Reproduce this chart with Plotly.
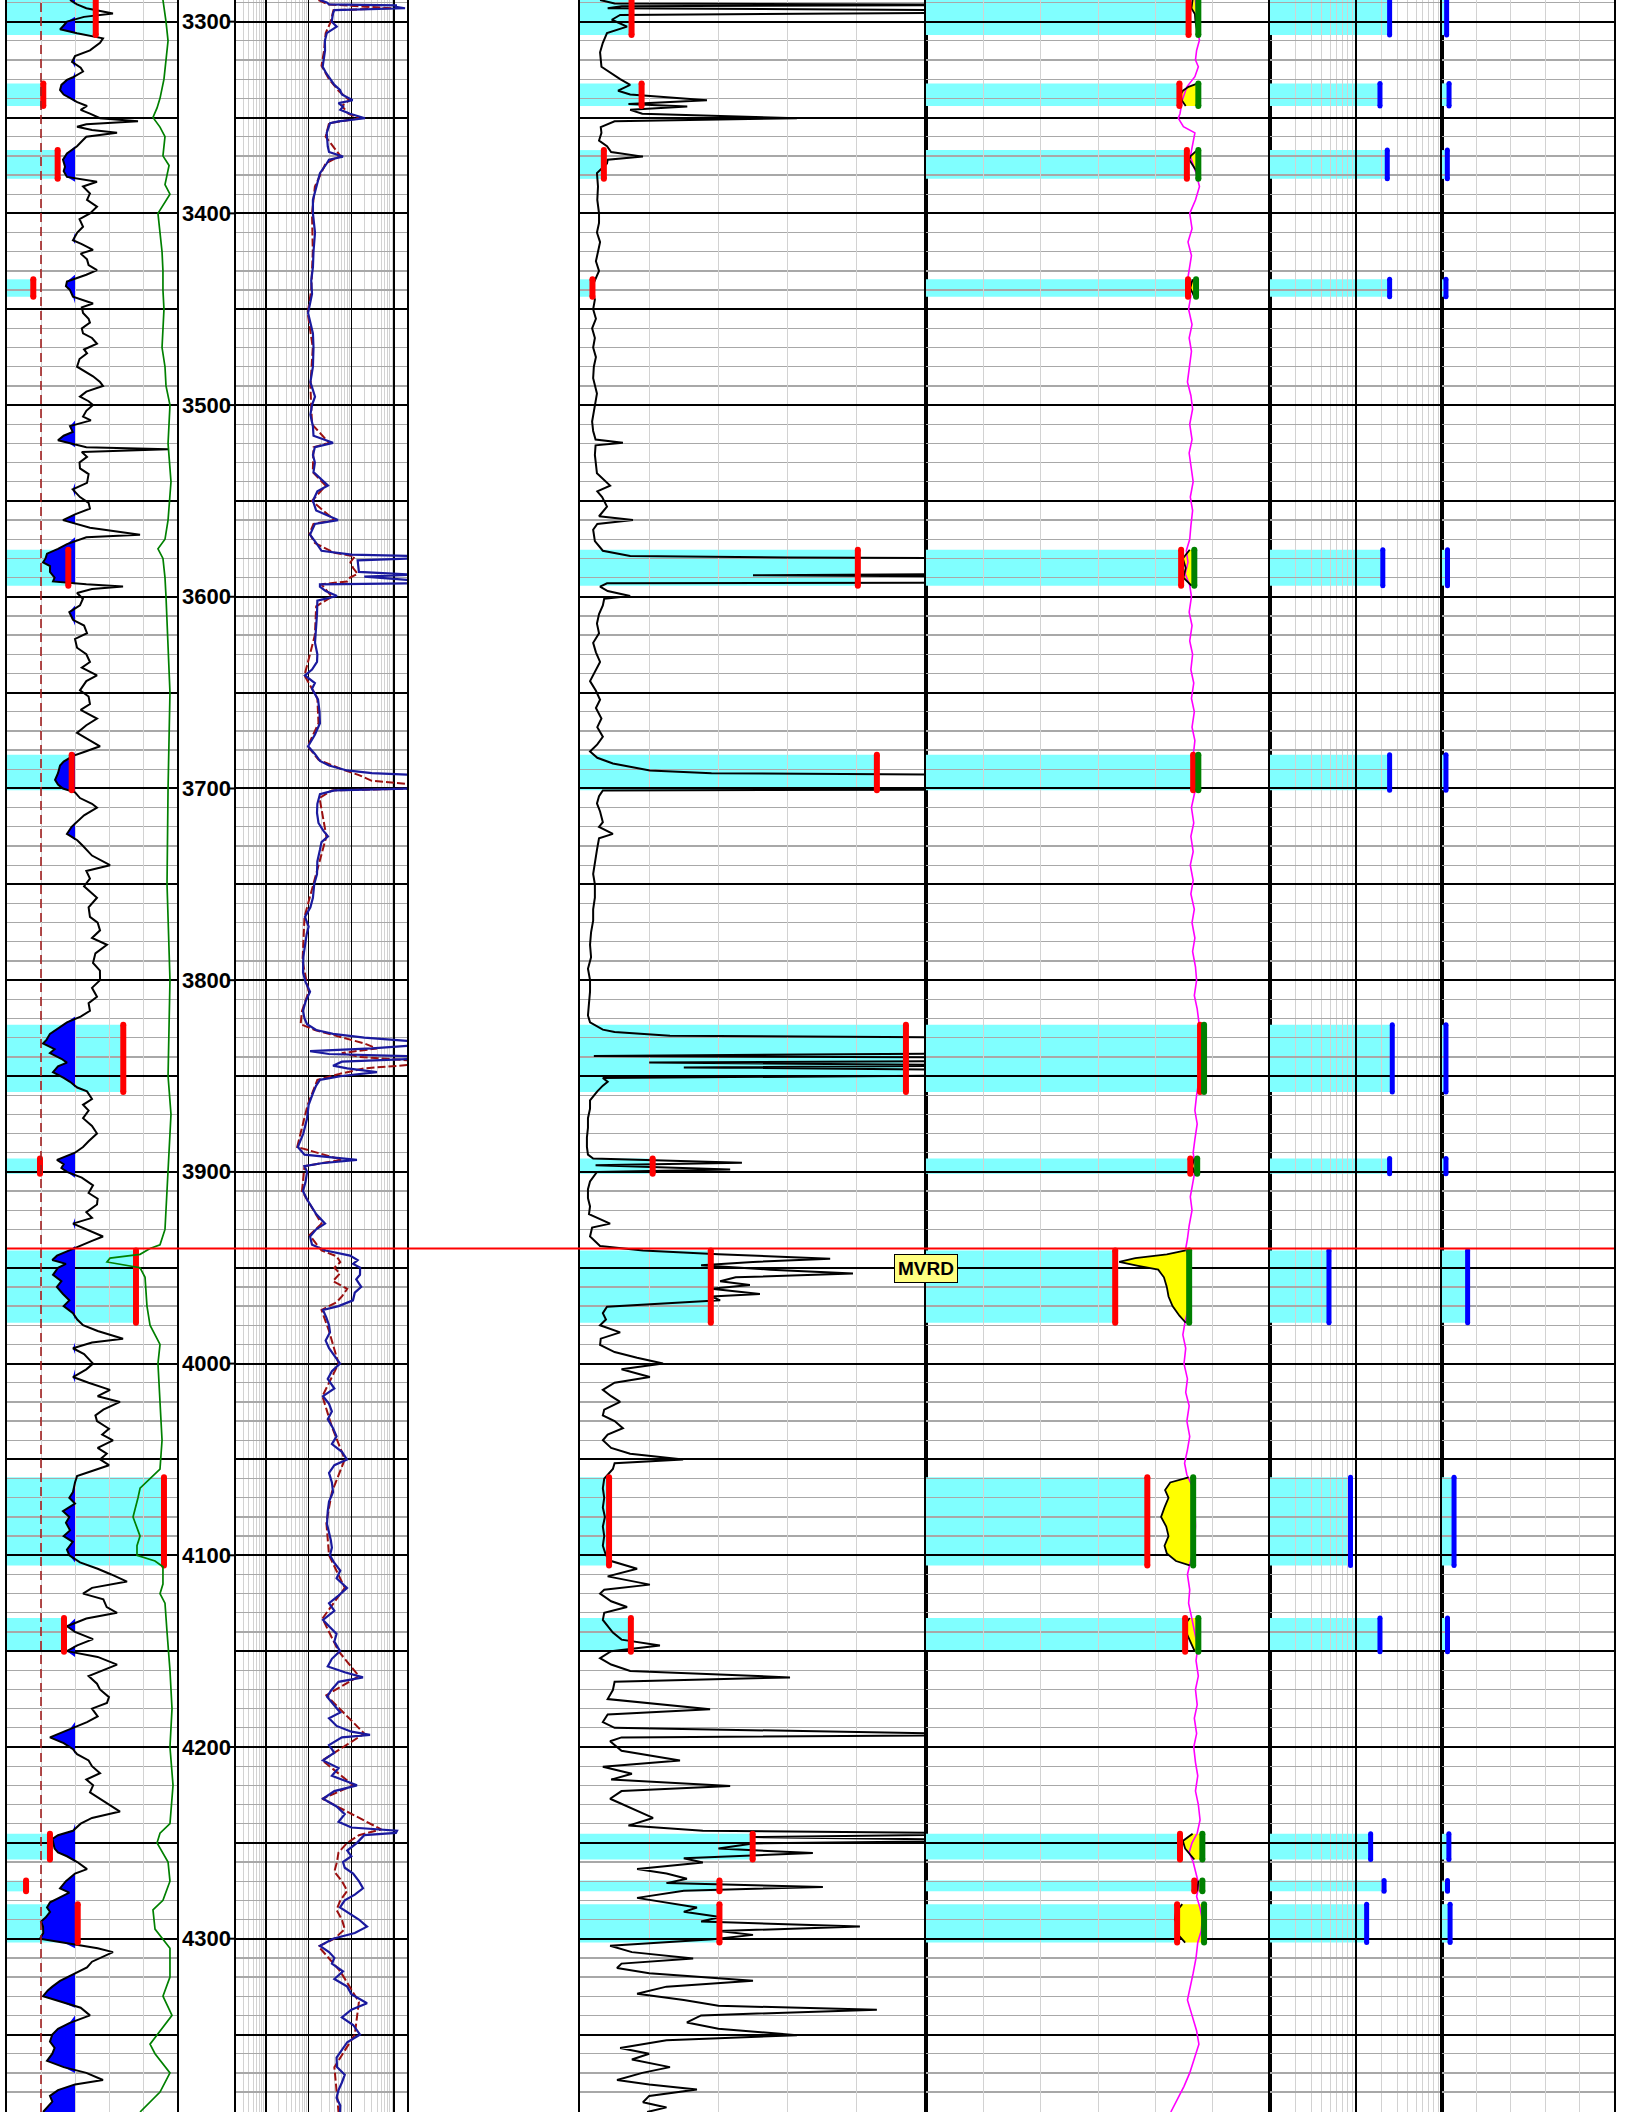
import plotly.graph_objects as go

W, H = 1632, 2112
TOP_DEPTH, BASE_DEPTH = 3288.7, 4390.4

# ---------------- data ----------------
# Track 1 : gamma ray (API), depth ft
GR = [(3288.7, 55.6), (3291, 61.8), (3293, 70), (3295.7, 93.5), (3297.5, 68), (3300, 52.9), (3302, 50),
      (3304, 46.8), (3306, 61.8), (3308.7, 84.7), (3311, 82.1), (3315, 73.2), (3318, 60), (3321, 57.4),
      (3324, 65), (3326, 67.1), (3329, 58.2), (3330.4, 52.9), (3333, 48), (3335.6, 46.8), (3338, 50),
      (3340, 55.6), (3342, 62), (3344, 70.6), (3346, 65), (3348, 73.2), (3350.4, 82.1), (3352, 115.6),
      (3353.5, 70), (3354.8, 61.8), (3356.5, 75), (3358, 97.1), (3360, 70), (3361.7, 67.1), (3365, 61.8),
      (3368.7, 52.9), (3372, 49.4), (3375.7, 51.2), (3378, 50), (3381, 52.9), (3383.5, 79.4), (3386, 67.1),
      (3389.6, 73.2), (3393, 70.6), (3396.5, 79.4), (3400, 73.2), (3403, 64), (3407, 67.1), (3410, 62),
      (3414, 58.2), (3416, 66), (3419, 75.9), (3421, 65), (3424, 70.6), (3427, 72), (3429.6, 79.4),
      (3432, 70), (3435.6, 52.9), (3438, 52), (3440, 55.6), (3443.5, 58.2), (3447, 75.9), (3449, 66),
      (3452, 67.1), (3455, 72), (3457, 73.2), (3460, 66), (3462.6, 67.1), (3465, 75), (3468, 79.4),
      (3471, 68), (3473, 70.6), (3476, 64), (3480, 61.8), (3483, 70), (3485, 75.9), (3488, 82.1),
      (3490, 84.7), (3493, 70), (3495.6, 64.4), (3498, 72), (3500, 75.9), (3503, 70), (3506, 67.1),
      (3508, 74), (3511, 55.6), (3514, 58), (3516, 50), (3518.4, 45), (3520, 55), (3522, 70), (3523, 142.1),
      (3524.5, 66), (3527, 70.6), (3530, 64), (3533, 64.4), (3536, 72), (3540.6, 70.6), (3544, 58),
      (3548, 64.4), (3551, 72), (3554, 73.2), (3557, 60), (3560, 49.4), (3562, 62), (3564, 73.2),
      (3567.6, 117.4), (3569, 70), (3572.5, 52.9), (3575, 45), (3577.5, 35.3), (3580, 34), (3582, 31.8),
      (3584, 38), (3587, 37.9), (3590, 42), (3592, 40.6), (3593.5, 70), (3594.7, 102.4), (3596, 75),
      (3598, 61.8), (3601, 67), (3604.5, 64.4), (3608, 55), (3612, 58.2), (3615, 68), (3619, 70.6),
      (3622, 60), (3626.6, 61.8), (3630, 70), (3634, 73.2), (3637, 66), (3641, 79.4), (3644, 70),
      (3648.8, 64.4), (3652, 72), (3656, 73.2), (3659, 65), (3663.5, 79.4), (3667, 70), (3671, 61.8),
      (3674, 70), (3678, 82.1), (3681, 68), (3683, 58.2), (3686, 50), (3688, 46.8), (3692, 45),
      (3695.5, 42.4), (3698, 45), (3700, 49.4), (3702, 60), (3705, 64.4), (3708, 75), (3710, 79.4),
      (3714, 68), (3717.6, 61.8), (3720, 57), (3723.7, 52.9), (3727, 62), (3730, 67.1), (3735, 75),
      (3740, 90.9), (3743, 70), (3747, 73.2), (3751, 68), (3757, 79.4), (3762, 72), (3767, 73.2),
      (3770, 80), (3774, 82.1), (3778, 75), (3781.5, 88.2), (3786, 78), (3791, 75.9), (3795, 82),
      (3800, 82.1), (3804, 75), (3808.6, 79.4), (3812, 72), (3816, 73.2), (3819, 65), (3822, 52.9),
      (3825, 45), (3828, 37.9), (3831, 35), (3833, 31.8), (3836, 42), (3838, 37.9), (3841, 48),
      (3843, 52.9), (3845, 45), (3848, 40.6), (3851, 50), (3853, 55.6), (3856, 62), (3858, 70.6),
      (3862, 75), (3865, 67.1), (3868, 72), (3872, 67.1), (3876, 75), (3880, 79.4), (3884, 72),
      (3887, 67.1), (3890, 60), (3893.7, 44.1), (3896, 50), (3898, 48), (3900, 52.9), (3903, 66),
      (3907, 75.9), (3911, 72), (3914, 80), (3917, 79.4), (3921, 70), (3924, 75), (3927, 58.2),
      (3930, 70), (3933.7, 84.7), (3936, 75), (3938.7, 64.4), (3941, 55), (3943.7, 44.1), (3946, 40),
      (3948, 52), (3950, 45), (3953.7, 40.6), (3957, 48), (3960, 44), (3963.7, 49.4), (3967, 55),
      (3970, 50), (3973.7, 58.2), (3977, 62), (3980, 67.1), (3983, 80), (3987, 102.4), (3989, 75),
      (3992, 58.2), (3995, 68), (4000, 75.9), (4003, 70), (4007, 58.2), (4010, 72), (4013.7, 90.9),
      (4017, 80), (4020, 99.7), (4024, 85), (4027, 78), (4030, 79.4), (4034, 90), (4037, 84),
      (4040, 93.5), (4044, 80), (4047, 88), (4050, 82.1), (4053, 90), (4056, 75), (4058.7, 61.8),
      (4062, 60), (4067, 58.2), (4070, 55), (4073, 60), (4077, 49.4), (4080, 55), (4083, 52),
      (4087, 55.6), (4090, 50), (4093, 58), (4097, 52.9), (4100, 55), (4103.7, 64.4), (4107, 80),
      (4110, 92), (4113.7, 105.9), (4117, 75), (4120, 67.1), (4123, 85), (4127, 88), (4130, 97.1),
      (4133, 70), (4137, 52.9), (4140, 60), (4143.7, 75.9), (4147, 62), (4150, 52.9), (4153, 80),
      (4157, 97.1), (4160, 85), (4163, 72), (4167, 79.4), (4170, 82), (4174, 90), (4177, 88.2),
      (4180, 75), (4184, 80), (4187, 70.6), (4191, 55), (4195, 37.9), (4198, 50), (4201, 58),
      (4203.7, 61.8), (4207, 72), (4210, 75), (4213.7, 82.1), (4217, 70), (4220, 76), (4223.7, 73.2),
      (4227, 82), (4230, 90), (4233.7, 99.7), (4237, 75), (4240, 65), (4243.7, 58.2), (4246, 45),
      (4248, 40), (4250, 40.6), (4253, 42), (4255, 45), (4257, 52.9), (4260, 62), (4263.7, 70.6),
      (4266, 60), (4270, 52), (4273.7, 46.8), (4276, 55), (4279, 45), (4281, 38), (4283.7, 35.3),
      (4286, 38), (4289, 34), (4291, 30), (4293.7, 31.8), (4297, 32), (4300, 29.1), (4302, 50),
      (4305, 80), (4307, 93.5), (4310, 82), (4312, 75), (4315, 70.6), (4318, 60), (4322, 46.8),
      (4325, 40), (4327, 36), (4330, 31.8), (4333, 48), (4336, 65), (4340, 73.2), (4344, 55),
      (4347, 45), (4350, 40), (4353.7, 37.9), (4357, 42), (4360, 40), (4363.7, 35.3), (4367, 50),
      (4370, 70), (4373.7, 84.7), (4376, 60), (4379, 45), (4382, 37.9), (4385, 40), (4388, 35),
      (4390.4, 31.8)]
GR_CUTOFF = 60.0
GR_CLEAN = 30.0

# Track 1 : SP (mV)
SP = [(3288.7, -62.4), (3295, -60.6), (3300, -59.7), (3310, -57.9), (3320, -59.7), (3330, -61.5),
      (3340, -65.0), (3345, -67.6), (3350, -71.2), (3355, -65.0), (3360, -60.6), (3370, -62.4),
      (3375, -57.0), (3380, -58.8), (3385, -60.6), (3390, -56.2), (3400, -66.8), (3410, -65.0),
      (3420, -63.2), (3430, -62.4), (3440, -62.4), (3450, -61.5), (3460, -62.4), (3470, -63.2),
      (3480, -60.6), (3490, -59.7), (3500, -56.2), (3520, -57.9), (3540, -55.3), (3560, -57.9),
      (3570, -60.6), (3575, -66.8), (3580, -62.4), (3590, -60.6), (3600, -59.7), (3650, -56.2),
      (3700, -57.9), (3750, -58.8), (3800, -56.2), (3850, -57.9), (3870, -55.3), (3880, -56.2),
      (3900, -57.9), (3930, -60.6), (3938, -65.0), (3940, -73.8), (3943, -82.6), (3945, -109.1),
      (3947, -111.8), (3950, -82.6), (3955, -78.2), (3970, -76.5), (3980, -73.8), (3985, -69.4),
      (3990, -65.0), (4000, -66.8), (4020, -65.0), (4040, -63.2), (4055, -65.0), (4060, -73.8),
      (4065, -82.6), (4070, -84.4), (4080, -88.8), (4090, -82.6), (4095, -85.3), (4100, -85.3),
      (4103, -69.4), (4106, -62.4), (4115, -62.4), (4120, -65.0), (4125, -60.6), (4140, -58.8),
      (4160, -56.2), (4180, -54.4), (4200, -56.2), (4220, -53.5), (4240, -56.2), (4245, -65.0),
      (4250, -67.6), (4260, -57.9), (4270, -56.2), (4280, -62.4), (4285, -71.2), (4295, -69.4),
      (4305, -56.2), (4320, -56.2), (4330, -62.4), (4340, -54.4), (4350, -66.8), (4355, -73.8),
      (4360, -69.4), (4370, -56.2), (4380, -65.0), (4390.4, -82.6)]

# Track 2 : deep resistivity (ohm.m)
RES_DEEP = [(3288.7, 18.4), (3290, 26.5), (3291, 30), (3291.5, 1100), (3292.3, 1100), (3293, 1800),
            (3294, 40), (3295.6, 37.2), (3300, 34.7), (3302.6, 45.4), (3306, 26.5), (3310, 24),
            (3315, 24.2), (3320, 22), (3323.5, 21.3), (3327, 26), (3330, 31.6), (3333, 40), (3335.6, 54.2),
            (3338, 60), (3341, 107), (3342.5, 50), (3344.3, 63.7), (3346, 55), (3348, 93), (3350.4, 208),
            (3352, 50), (3353, 31.6), (3358, 26.5), (3365, 28), (3368, 30), (3370.4, 63.7), (3372, 30),
            (3374, 26.5), (3379, 18.4), (3386, 15), (3393, 12.6), (3400, 12.6), (3410, 14.1), (3420, 13),
            (3428, 12.6), (3435, 11.5), (3442, 12), (3452, 9.7), (3462.6, 12.6), (3470, 13), (3480, 12.6),
            (3488, 11), (3495.6, 14.1), (3500, 12), (3505, 11), (3511, 12.6), (3516, 13), (3519.7, 37.2),
            (3522, 14), (3526, 12.6), (3530, 14), (3535, 13), (3542, 28.4), (3545, 16), (3550, 12.6),
            (3555, 15), (3560, 48.7), (3562, 14), (3567.6, 10.8), (3572.5, 15.7), (3576, 20), (3578, 100),
            (3578.7, 3000), (3580, 3000), (3581, 140), (3587, 150), (3588.5, 3000), (3589.5, 200),
            (3591.5, 3000), (3593, 3000), (3593.5, 18.4), (3594.7, 18.4), (3597, 25), (3599.6, 46.1),
            (3602, 16), (3609, 15.7), (3615, 15), (3624, 14.1), (3630, 16), (3634, 15.7), (3638, 12),
            (3641, 8.2), (3645, 14), (3648, 12), (3653.7, 16.6), (3660, 18), (3666, 18.4), (3672, 14),
            (3678, 9.7), (3682, 14), (3685.6, 18.4), (3688, 30), (3690.6, 79), (3692, 300), (3693, 3000),
            (3700, 3000), (3701, 40), (3703, 18.4), (3708, 16), (3712.7, 15.7), (3718, 17), (3722, 22),
            (3725, 28.4), (3728, 20), (3732, 18.4), (3738, 16), (3744.6, 15.7), (3750, 13.5), (3757, 12.6),
            (3762, 11), (3767, 8.2), (3772, 10), (3776, 9), (3781.5, 8.2), (3788, 7.5), (3796, 7.4),
            (3801, 8.5), (3806, 10.8), (3811, 8.5), (3816, 7.4), (3820, 8), (3823, 9.2), (3826, 15),
            (3828, 37.2), (3830, 200), (3832, 3000), (3834, 3000), (3835.6, 300), (3837, 10.8),
            (3838.5, 30), (3839.7, 3000), (3841, 3000), (3842.5, 60), (3844.6, 37.2), (3846, 80),
            (3848, 397), (3850, 60), (3852, 18.4), (3855, 15), (3859, 12.6), (3865, 10), (3872, 9.2),
            (3880, 7.5), (3887, 5.6), (3891, 8), (3893.7, 135), (3895.5, 20), (3897, 8), (3900, 9.2),
            (3905, 8.5), (3910, 7.4), (3914, 9), (3917, 10.8), (3922, 15), (3927, 24.2), (3930, 15),
            (3933.7, 10.8), (3938, 12), (3941, 25), (3943.7, 93), (3946, 140), (3948, 110), (3950, 160),
            (3953.7, 159), (3956, 130), (3960, 170), (3963, 120), (3967, 109), (3970, 50), (3972, 21.7),
            (3976, 26), (3980, 30), (3983.7, 31.6), (3988, 25), (3992, 30), (3996, 40), (4000, 54.2),
            (4004, 35), (4008, 28), (4013, 40), (4017, 21.7), (4021, 30), (4025, 35), (4029, 28),
            (4033.7, 37.2), (4038, 45), (4042, 35), (4046, 60), (4050, 79), (4053, 40), (4057, 30),
            (4062, 35), (4067, 37.2), (4072, 30), (4077, 28), (4083.7, 26.9), (4088, 30), (4092, 33),
            (4096, 35), (4100, 31.6), (4104, 40), (4108, 55), (4112, 45), (4117, 79), (4121, 50),
            (4125, 30), (4129, 40), (4133.7, 21.7), (4137, 30), (4141, 45), (4145, 40), (4150, 54.2),
            (4154, 35), (4158, 28), (4161, 70), (4163.7, 187), (4166, 50), (4170, 35), (4173.7, 26.9),
            (4178, 40), (4182, 55), (4185, 30), (4189, 45), (4192, 100), (4193.7, 273), (4195, 60),
            (4199, 30), (4203, 40), (4207, 21.7), (4211, 50), (4215, 35), (4220, 135), (4223, 40),
            (4227, 21.7), (4231, 45), (4235, 70), (4239, 50), (4242, 100), (4243.7, 1167), (4244.8, 1100),
            (4246, 200), (4250, 135), (4254, 80), (4257, 100), (4260, 63.7), (4263, 70), (4266, 110),
            (4270, 150), (4273.7, 187), (4277, 120), (4280, 70), (4283.7, 54.2), (4287, 90), (4290, 150),
            (4293.7, 232), (4297, 120), (4300, 37.2), (4303.7, 18.4), (4307, 30), (4310, 40), (4313, 35),
            (4317, 63.7), (4321, 40), (4325, 80), (4329, 100), (4333.7, 232), (4337, 100), (4341, 60),
            (4345, 110), (4350, 159), (4354, 80), (4358, 60), (4362, 45), (4367, 46.1), (4371, 70),
            (4375, 60), (4379, 50), (4383, 45), (4387, 55), (4390.4, 54.2)]

# Track 2 : shallow resistivity (ohm.m)
RES_SHALLOW = [(3288.7, 17), (3291, 28), (3293, 900), (3294, 38), (3300, 33), (3306, 25), (3315, 23),
               (3323, 20), (3330, 30), (3336, 50), (3341, 90), (3344, 60), (3348, 85), (3350.4, 150),
               (3353, 30), (3360, 25), (3370, 55), (3374, 25), (3386, 14), (3400, 12), (3420, 12.5),
               (3440, 11.5), (3452, 9.5), (3470, 12.5), (3490, 11), (3500, 11.5), (3510, 12),
               (3519.7, 30), (3522, 13), (3535, 12.5), (3542, 25), (3550, 12), (3560, 40), (3562, 13),
               (3567, 10.5), (3572, 14), (3577, 40), (3579, 120), (3582, 95), (3585, 110), (3588, 140),
               (3590, 93), (3592, 80), (3593.5, 20), (3600, 35), (3605, 15), (3620, 14), (3641, 8),
               (3653, 16), (3666, 17), (3678, 9.5), (3685, 17), (3690, 60), (3693, 150), (3696, 300),
               (3698, 3000), (3700, 3000), (3701, 35), (3705, 18), (3725, 26), (3745, 15), (3767, 8),
               (3790, 7.2), (3806, 10), (3816, 7), (3823, 6.5), (3826, 14), (3830, 60), (3833, 200),
               (3835.6, 397), (3838, 60), (3840, 150), (3842, 3000), (3844, 3000), (3846, 200),
               (3849, 50), (3852, 16), (3865, 9.5), (3887, 5.4), (3893.7, 60), (3897, 8), (3910, 7),
               (3927, 20), (3933, 10.5), (3941, 20), (3944, 45), (3947, 55), (3950, 40), (3953, 54),
               (3957, 37), (3961, 80), (3965, 60), (3968, 45), (3972, 20), (3983, 30), (4000, 50),
               (4017, 21), (4033, 35), (4050, 70), (4067, 35), (4083, 26), (4100, 30), (4117, 70),
               (4133, 21), (4150, 50), (4163, 150), (4173, 26), (4193, 200), (4207, 21), (4220, 110),
               (4227, 21), (4243, 500), (4246, 150), (4250, 80), (4255, 50), (4260, 46), (4265, 40),
               (4270, 60), (4275, 80), (4280, 55), (4285, 45), (4290, 60), (4295, 70), (4300, 40),
               (4304, 17), (4317, 55), (4333, 150), (4350, 120), (4367, 40), (4390.4, 50)]

# Track 3 curve (0-100 scale)
T3_CURVE = [(3288.7, 5.8), (3290.5, 10), (3291.3, 130), (3292, 12), (3293, 8), (3294.2, 130), (3295.2, 130),
            (3296.5, 11.6), (3299, 9.2), (3302.6, 13.6), (3306, 7.8), (3311, 6.6), (3316, 5.8),
            (3323.5, 6.2), (3330, 11.6), (3333, 14.5), (3336, 11), (3338, 14.5), (3341, 36.7), (3343, 14),
            (3344.3, 31), (3346, 14.5), (3348, 18), (3350.4, 62.7), (3352, 10), (3355, 6), (3358, 6.2),
            (3362, 5.5), (3365, 7.8), (3368, 9), (3370.4, 18.2), (3372, 8), (3374, 7.8), (3379, 4.9),
            (3386, 5.2), (3393, 5), (3400, 5.5), (3405, 5.5), (3410, 4.9), (3415, 5.8), (3420, 5.2),
            (3425, 4.6), (3430, 5.5), (3435, 4.3), (3437, 3.8), (3440, 3.5), (3445, 4.3), (3450, 3.8),
            (3455, 4.6), (3460, 3.5), (3465, 4.3), (3470, 3.8), (3475, 4.6), (3480, 4), (3486, 3.8),
            (3494, 4.9), (3500, 4.3), (3508.6, 3.5), (3513.5, 3.8), (3518, 4.5), (3519.7, 12.4),
            (3521, 4.5), (3526, 4.3), (3535.6, 4.9), (3542, 8.7), (3545, 5), (3548, 6.4), (3553, 7.8),
            (3558, 5.5), (3560, 15.3), (3562, 5), (3565, 3.8), (3571, 4.3), (3576, 6.6), (3578.7, 14.5),
            (3579.5, 60), (3580, 130), (3588, 130), (3588.8, 50), (3589.5, 130), (3592.5, 130), (3593, 7.8),
            (3594.7, 5.8), (3597, 8), (3599.6, 14.5), (3601, 7), (3604.5, 6.6), (3609, 5.5), (3614, 4.9),
            (3619, 5.5), (3624, 3.8), (3629, 4.6), (3634, 5.8), (3639, 4.3), (3644, 2.9), (3649, 4.6),
            (3653.7, 5.8), (3658, 4.6), (3663.5, 6.2), (3668, 5), (3673, 6.6), (3677, 5), (3680.7, 2.9),
            (3684, 5), (3687, 9.5), (3690.6, 20.2), (3692, 38), (3693, 130), (3700.5, 130), (3701, 6.6),
            (3704, 5.5), (3707.8, 4.9), (3712, 5.8), (3717.6, 6.6), (3720, 5.5), (3723.7, 9.5), (3726, 5.5),
            (3732, 4.9), (3738, 4.3), (3744.6, 3.8), (3750, 4.3), (3757, 4.3), (3763, 3.8), (3769, 3.8),
            (3775, 3.2), (3781.5, 2.9), (3788, 3.2), (3794, 2.3), (3800, 2.9), (3806, 2.9), (3812, 2.6),
            (3818.4, 2.3), (3822, 2.9), (3825.8, 6.6), (3827, 10), (3829, 26), (3830, 130), (3838, 130),
            (3839.5, 4), (3840.5, 130), (3842, 130), (3843, 20), (3844.5, 130), (3845.5, 30), (3847, 130),
            (3849.5, 130), (3851, 6.6), (3853, 8), (3855, 6.6), (3858, 5), (3862.7, 2.9), (3867, 2.9),
            (3872, 2.3), (3877, 2.3), (3882, 2), (3887, 2), (3891, 2.3), (3893, 3.8), (3895.3, 46.8),
            (3896.5, 4.5), (3898.7, 43.4), (3900, 4.9), (3905, 2.9), (3909, 2.3), (3913.7, 2.3),
            (3918, 2.9), (3922, 2.6), (3927, 8.7), (3929, 3.5), (3933.7, 2.9), (3938.7, 5.8), (3941, 18.2),
            (3943, 40), (3945.3, 72.3), (3947, 50), (3948.7, 35), (3951, 55), (3953, 78.9), (3955, 45),
            (3957, 40.5), (3959, 49.1), (3961, 38), (3963.7, 52), (3965, 38), (3967, 40.5), (3970.3, 7.8),
            (3973.7, 6.6), (3977, 7.5), (3980, 5.8), (3983.7, 11.6), (3987, 6), (3990.3, 5.8), (3994, 10),
            (3997, 16.5), (4000, 24), (4003, 12), (4007, 20.2), (4010, 10), (4013.7, 6.6), (4017, 9),
            (4020, 11.6), (4024, 7), (4027, 6.6), (4030, 10), (4033.7, 12.4), (4037, 8), (4040, 6.6),
            (4044, 9), (4047, 14.5), (4050, 29.8), (4052, 10), (4055, 9.5), (4060, 7), (4065, 6.6),
            (4070, 7), (4075, 6.6), (4080, 7.2), (4085, 6.6), (4090, 7), (4095, 6.6), (4100, 7.5),
            (4103, 9), (4107, 16.5), (4111, 8), (4115.3, 20.2), (4118, 7), (4120, 5.8), (4124, 9),
            (4127, 13.6), (4130, 7), (4133.7, 6.6), (4137, 8), (4140.3, 9.5), (4144, 12), (4147, 23.1),
            (4150, 9), (4153.7, 5.8), (4157, 9), (4160.3, 14.5), (4163.7, 60.7), (4166, 10), (4170.3, 9.5),
            (4175, 8), (4180.3, 37.6), (4183, 8), (4187, 6.6), (4190, 10), (4193.7, 130), (4195, 12),
            (4197, 8.7), (4202, 12), (4207, 28.9), (4210.3, 6.6), (4214, 15), (4217, 9), (4220.3, 43.4),
            (4223, 12), (4227, 8.7), (4232, 15), (4237, 21.1), (4241, 14), (4243.7, 35.5), (4245.3, 130),
            (4247, 50), (4248.7, 130), (4250.3, 50), (4253, 40), (4255.3, 67.3), (4258, 30), (4260.3, 35.5),
            (4263.7, 16.5), (4266, 25), (4268.7, 30.9), (4271, 25), (4273, 70.2), (4275, 30), (4278.7, 16.5),
            (4281, 25), (4283.7, 33.8), (4286, 30), (4288.7, 40.5), (4291, 35), (4293.7, 80.9), (4296, 40),
            (4298, 50), (4300.3, 38.4), (4303.7, 8.7), (4307, 15), (4310.3, 32.7), (4313, 12),
            (4315.3, 10.7), (4318, 20), (4322, 50), (4325, 25), (4328.7, 16.5), (4332, 30), (4335, 40),
            (4337, 85.8), (4340, 35), (4343.7, 30.9), (4347, 40), (4350.3, 62.7), (4353, 25), (4357, 11.6),
            (4360, 20), (4363, 15), (4367, 26), (4370, 18), (4373.7, 10.7), (4376, 20), (4378.7, 33.8),
            (4382, 20), (4385.3, 18.2), (4388, 25), (4390.4, 19.4)]

# Track 4 magenta curve (0-60 scale)
T4_MAGENTA = [(3288.7, 47.0), (3295, 47.2), (3300, 47.1), (3305, 47.3), (3309.6, 47.7), (3315, 47.2),
              (3320, 47.0), (3323.5, 47.5), (3328.7, 46.9), (3334, 45.5), (3341, 44.7), (3348, 44.3),
              (3350.4, 44.0), (3354.8, 44.9), (3358, 46.9), (3363.5, 46.6), (3370.4, 46.1), (3379, 47.1),
              (3386, 47.7), (3393, 47.0), (3400, 46.0), (3408, 46.4), (3415, 45.7), (3422, 46.3),
              (3430, 45.9), (3437, 45.5), (3443, 46.2), (3450, 45.8), (3458, 46.4), (3465, 45.9),
              (3472, 46.3), (3480, 46.0), (3488, 45.6), (3495, 46.2), (3502, 46.5), (3510, 46.0),
              (3518, 46.4), (3525, 45.9), (3533, 46.3), (3540, 46.6), (3548, 46.1), (3555, 46.5),
              (3563, 46.2), (3570, 46.0), (3576, 45.4), (3582, 45.7), (3588, 45.2), (3594, 46.0),
              (3600, 46.3), (3608, 45.9), (3615, 46.4), (3623, 46.0), (3630, 46.5), (3638, 46.2),
              (3645, 46.7), (3653, 46.3), (3660, 46.8), (3668, 46.4), (3675, 46.9), (3683, 46.6),
              (3690, 47.1), (3697, 47.4), (3703, 46.8), (3710, 46.3), (3718, 46.7), (3725, 46.2),
              (3733, 46.6), (3740, 46.1), (3748, 46.6), (3755, 46.2), (3763, 46.8), (3770, 46.4),
              (3778, 46.9), (3785, 46.5), (3793, 47.0), (3800, 47.2), (3808, 46.8), (3815, 47.3),
              (3822, 47.6), (3830, 47.9), (3838, 48.1), (3845, 48.0), (3852, 47.6), (3860, 47.2),
              (3868, 46.9), (3875, 47.3), (3883, 46.9), (3890, 46.6), (3898, 47.0), (3905, 46.6),
              (3913, 46.1), (3920, 46.4), (3928, 45.9), (3935, 45.6), (3940, 45.3), (3945, 45.8),
              (3950, 46.2), (3958, 46.0), (3965, 46.1), (3972, 45.7), (3978, 45.2), (3985, 44.8),
              (3992, 45.3), (4000, 45.0), (4008, 45.6), (4015, 45.3), (4022, 45.9), (4030, 45.5),
              (4038, 46.0), (4045, 45.6), (4052, 45.1), (4058, 45.5), (4065, 46.6), (4075, 46.9),
              (4085, 47.0), (4095, 46.8), (4103, 46.2), (4110, 45.6), (4118, 46.0), (4125, 45.8),
              (4132, 46.3), (4140, 46.8), (4148, 47.4), (4155, 47.1), (4163, 47.5), (4170, 47.0),
              (4178, 47.3), (4185, 46.8), (4193, 47.2), (4200, 46.7), (4208, 47.0), (4215, 47.4),
              (4223, 47.0), (4230, 47.5), (4238, 47.8), (4245, 47.3), (4250, 46.4), (4255, 45.9),
              (4260, 46.6), (4266, 47.1), (4272, 47.6), (4278, 47.2), (4284, 47.8), (4290, 48.2),
              (4296, 48.0), (4302, 47.4), (4310, 47.1), (4318, 46.6), (4325, 46.1), (4332, 45.6),
              (4340, 46.4), (4348, 47.2), (4355, 47.6), (4362, 46.9), (4370, 46.0), (4377, 45.0),
              (4384, 43.8), (4390.4, 42.7)]

# Track 4 black curve inside each zone (0-60 scale)
T4_BLACK = [
    [(3288.7, 46.5), (3293, 46.3), (3296, 46.9), (3300, 47.0), (3305, 47.3), (3307, 47.5)],
    [(3332.2, 47.4), (3334, 45.8), (3336, 44.8), (3338, 44.4), (3341, 44.6), (3344, 45.3)],
    [(3367, 47.3), (3370, 46.2), (3372, 45.9), (3375, 46.5), (3378, 47.2), (3382, 47.5)],
    [(3434.4, 46.5), (3439, 46.1), (3443.5, 46.8)],
    [(3575.5, 46.0), (3580, 44.8), (3585, 45.3), (3590, 44.9), (3594.2, 46.3)],
    [(3682.4, 47.2), (3690, 46.9), (3700.9, 47.3)],
    [(3823.3, 48.2), (3840, 48.3), (3858.3, 48.2)],
    [(3893, 46.8), (3897, 46.4), (3901, 47.0)],
    [(3941, 45.3), (3943, 42.0), (3945, 36.5), (3947, 33.7), (3949, 37.0), (3951, 40.5), (3955, 41.5),
     (3960, 42.0), (3965, 42.3), (3970, 43.0), (3975, 44.2), (3978.7, 45.3)],
    [(4059.3, 45.8), (4062, 42.6), (4066, 41.7), (4070, 42.3), (4075, 41.6), (4080, 41.0), (4085, 41.9),
     (4090, 42.3), (4095, 41.6), (4099, 42.0), (4103, 43.6), (4105.3, 46.0)],
    [(4132.7, 46.0), (4136, 45.2), (4141, 45.5), (4146, 46.3), (4150.3, 46.9)],
    [(4245.3, 46.5), (4249, 44.8), (4253, 45.2), (4258.7, 46.8)],
    [(4269.7, 47.5), (4275.3, 47.3)],
    [(4282, 44.7), (4286, 43.6), (4290, 43.4), (4294, 44.1), (4298, 44.0), (4302, 45.2)],
]

# Interpreted zones and their flags
ZONE_TOP = [3286.0, 3332.2, 3367.0, 3434.4, 3575.5, 3682.4, 3823.3, 3893.0, 3941.0, 4059.3, 4132.7, 4245.3, 4269.7, 4282.0]
ZONE_BASE = [3307.0, 3344.0, 3382.0, 3443.5, 3594.2, 3700.9, 3858.3, 3901.0, 3978.7, 4105.3, 4150.3, 4258.7, 4275.3, 4302.0]
T1_FLAG = [78.3, 32.0, 44.7, 23.2, 54.1, 57.1, 102.6, 29.1, 113.8, 138.5, 50.3, 37.9, 16.8, 62.4]
T3_FLAG = [14.9, 17.8, 6.9, 3.6, 80.3, 85.8, 94.2, 21.0, 37.8, 8.4, 14.7, 49.9, 40.3, 40.3]
T4_RED = [45.8, 44.2, 45.5, 45.7, 44.5, 46.6, 47.8, 46.1, 33.0, 38.6, 45.2, 44.3, 46.8, 43.8]
T4_GREEN = [47.5, 47.5, 47.5, 47.1, 46.8, 47.5, 48.5, 47.3, 45.9, 46.6, 47.5, 48.2, 48.2, 48.5]
T5A_FLAG = [2.46, 1.90, 2.31, 2.46, 2.05, 2.46, 2.64, 2.46, 0.485, 0.863, 1.90, 1.48, 2.12, 1.33]
T5B_FLAG = [2.7, 4.1, 3.1, 2.3, 3.2, 2.3, 2.3, 2.3, 14.9, 7.0, 3.2, 4.0, 3.2, 4.7]

FORMATION_TOP = 3940.0
FORMATION_NAME = "MVRD"
FORMATION_LABEL_DEPTH = 3950.5
DEPTH_LABELS = [3300, 3400, 3500, 3600, 3700, 3800, 3900, 4000, 4100, 4200, 4300]

# ---------------- layout ----------------
TRACKS = [  # name, left px, right px, type, range, grid step
    ("t1", 7, 177, "linear", [0, 150], 30),
    ("depth", 177, 236, "linear", [0, 1], None),
    ("t2", 236, 407, "log", [-0.69897, 3.30103], 1),
    ("blank", 407, 580, "linear", [0, 100], 20),
    ("t3", 580, 926, "linear", [0, 100], 20),
    ("t4", 926, 1270, "linear", [0, 60], 10),
    ("t5a", 1270, 1442, "log", [-1, 1], 1),
    ("t5b", 1442, 1614, "linear", [0, 100], 20),
]
AX = {}
layout = dict(width=W, height=H, autosize=False, margin=dict(l=0, r=0, t=0, b=0, pad=0),
              paper_bgcolor="white", plot_bgcolor="white", showlegend=False, hovermode=False)

MAJOR_GRID = "#000000"
MINOR_H = "#a8a8a8"
MINOR_V = "#d2d2d2"

for i, (name, x0, x1, typ, rng, dt) in enumerate(TRACKS, start=1):
    xa = "xaxis" if i == 1 else f"xaxis{i}"
    ya = "yaxis" if i == 1 else f"yaxis{i}"
    xs = "x" if i == 1 else f"x{i}"
    ys = "y" if i == 1 else f"y{i}"
    AX[name] = (xs, ys)
    xd = dict(domain=[x0 / W, x1 / W], anchor=ys, type=typ, range=rng, showticklabels=False,
              ticks="", zeroline=False, showline=False, fixedrange=True)
    if name == "depth":
        xd["showgrid"] = False
    elif typ == "log":
        xd.update(showgrid=True, dtick=1, gridcolor=MAJOR_GRID, gridwidth=1.6,
                  minor=dict(dtick="D1", showgrid=True, gridcolor=MINOR_V, gridwidth=1, ticks=""))
    else:
        xd.update(showgrid=True, dtick=dt, tick0=0, gridcolor=MINOR_V, gridwidth=1)
    layout[xa] = xd
    yd = dict(domain=[0, 1], anchor=xs, range=[BASE_DEPTH, TOP_DEPTH], showticklabels=False,
              ticks="", zeroline=False, fixedrange=True)
    if i > 1:
        yd["matches"] = "y"
    if name == "depth":
        yd.update(showgrid=False, showline=False)
    else:
        yd.update(showgrid=True, dtick=50, tick0=0, gridcolor=MAJOR_GRID, gridwidth=2,
                  minor=dict(dtick=10, tick0=0, showgrid=True, gridcolor=MINOR_H, gridwidth=1.3, ticks=""),
                  showline=True, mirror=True, linecolor="black", linewidth=2)
    layout[ya] = yd

# SP overlay axis on track 1 (mV)
layout["xaxis9"] = dict(overlaying="x", anchor="y", range=[-200, -50], visible=False, showgrid=False,
                        fixedrange=True)

fig = go.Figure()
fig.update_layout(**layout)


def split(points):
    return [p[0] for p in points], [p[1] for p in points]


def bars(values, tops, bases):
    xs, ys = [], []
    for v, t, b in zip(values, tops, bases):
        xs += [v, v, None]
        ys += [t, b, None]
    return xs, ys


def flag_trace(values, color, width, xs, ys):
    bx, by = bars(values, ZONE_TOP, ZONE_BASE)
    return go.Scatter(x=bx, y=by, mode="lines+markers", line=dict(color=color, width=width),
                      marker=dict(color=color, size=width, line=dict(width=0)), xaxis=xs, yaxis=ys)


shapes = []
annotations = []

# ---- cyan zones (below grid) ----
zone_tracks = [("t1", 0, T1_FLAG), ("t3", 0, T3_FLAG), ("t4", 0, T4_RED), ("t5a", 0.1, T5A_FLAG),
               ("t5b", 0, T5B_FLAG)]
for name, left, flags in zone_tracks:
    xs, ys = AX[name]
    for t, b, v in zip(ZONE_TOP, ZONE_BASE, flags):
        shapes.append(dict(type="rect", xref=xs, yref=ys, x0=left, x1=v, y0=t, y1=b,
                           fillcolor="#80ffff", line=dict(width=0), layer="below"))

# ---- Track 1 ----
gd, gv = split(GR)
xs, ys = AX["t1"]
fig.add_trace(go.Scatter(x=[GR_CUTOFF] * len(gv), y=gd, mode="lines", line=dict(width=0, color="blue"),
                         xaxis=xs, yaxis=ys))
fig.add_trace(go.Scatter(x=[min(v, GR_CUTOFF) for v in gv], y=gd, mode="lines", line=dict(width=0),
                         fill="tonextx", fillcolor="#0000ff", xaxis=xs, yaxis=ys))
fig.add_trace(go.Scatter(x=gv, y=gd, mode="lines", line=dict(color="black", width=2), xaxis=xs, yaxis=ys))
sd, sv = split(SP)
fig.add_trace(go.Scatter(x=sv, y=sd, mode="lines", line=dict(color="#008000", width=1.7), xaxis="x9", yaxis="y"))
shapes.append(dict(type="line", xref=xs, yref="paper", x0=GR_CLEAN, x1=GR_CLEAN, y0=0, y1=1,
                   line=dict(color="#a01e1e", width=1.6, dash="9px,5px"), layer="above"))
fig.add_trace(flag_trace(T1_FLAG, "#ff0000", 6, xs, ys))

# ---- Track 2 ----
xs, ys = AX["t2"]
rd, rv = split(RES_SHALLOW)
fig.add_trace(go.Scatter(x=rv, y=rd, mode="lines", line=dict(color="#9b1010", width=2, dash="8px,3px"),
                         xaxis=xs, yaxis=ys))
rd, rv = split(RES_DEEP)
fig.add_trace(go.Scatter(x=rv, y=rd, mode="lines", line=dict(color="#1a1a9e", width=2.2), xaxis=xs, yaxis=ys))

# ---- Track 3 ----
xs, ys = AX["t3"]
td, tv = split(T3_CURVE)
fig.add_trace(go.Scatter(x=tv, y=td, mode="lines", line=dict(color="black", width=2), xaxis=xs, yaxis=ys))
fig.add_trace(flag_trace(T3_FLAG, "#ff0000", 6, xs, ys))

# ---- Track 4 ----
xs, ys = AX["t4"]
for seg, g in zip(T4_BLACK, T4_GREEN):
    d, v = split(seg)
    fig.add_trace(go.Scatter(x=v + [g, g], y=d + [d[-1], d[0]], mode="lines", fill="toself",
                             fillcolor="#ffff00", line=dict(width=0), xaxis=xs, yaxis=ys))
md, mv = split(T4_MAGENTA)
fig.add_trace(go.Scatter(x=mv, y=md, mode="lines", line=dict(color="#ff00ff", width=1.6), xaxis=xs, yaxis=ys))
blx, bly = [], []
for seg in T4_BLACK:
    d, v = split(seg)
    blx += v + [None]
    bly += d + [None]
fig.add_trace(go.Scatter(x=blx, y=bly, mode="lines", line=dict(color="black", width=1.8), xaxis=xs, yaxis=ys))
fig.add_trace(flag_trace(T4_RED, "#ff0000", 6, xs, ys))
fig.add_trace(flag_trace(T4_GREEN, "#008000", 6, xs, ys))

# ---- Track 5 ----
for name, flags in (("t5a", T5A_FLAG), ("t5b", T5B_FLAG)):
    xs, ys = AX[name]
    fig.add_trace(flag_trace(flags, "#0000ff", 5, xs, ys))

# ---- formation top ----
shapes.append(dict(type="line", xref="paper", yref="y", x0=7 / W, x1=1614 / W, y0=FORMATION_TOP,
                   y1=FORMATION_TOP, line=dict(color="#ff0000", width=2), layer="above"))
annotations.append(dict(xref="paper", yref="y", x=926 / W, y=FORMATION_LABEL_DEPTH, text="<b>%s</b>" % FORMATION_NAME,
                        showarrow=False, xanchor="center", yanchor="middle", bgcolor="#ffff80",
                        bordercolor="black", borderwidth=1, borderpad=3,
                        font=dict(family="Liberation Sans, Arial, sans-serif", size=19, color="black")))

# ---- depth labels ----
for dl in DEPTH_LABELS:
    annotations.append(dict(xref="paper", yref="y2", x=206.5 / W, y=dl, text="<b>%d</b>" % dl, showarrow=False,
                            xanchor="center", yanchor="middle",
                            font=dict(family="Liberation Sans, Arial, sans-serif", size=22, color="black")))
    shapes.append(dict(type="line", xref="paper", yref="y2", x0=228 / W, x1=236 / W, y0=dl, y1=dl,
                       line=dict(color="black", width=2)))

fig.update_layout(shapes=shapes, annotations=annotations)

fig.write_html("out.html", config={"displayModeBar": False, "staticPlot": True},
               post_script="document.body.style.margin='0px';document.body.style.overflow='hidden';")
